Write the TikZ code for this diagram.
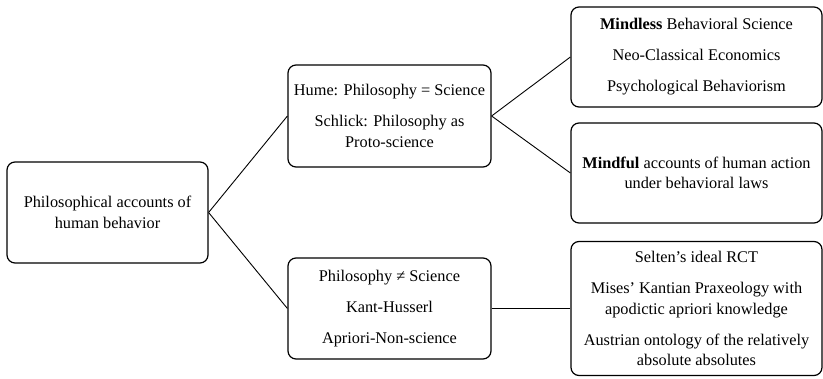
\documentclass[tikz,border=0pt]{standalone}
\usepackage{fontspec}
\setmainfont{Liberation Serif}
\begin{document}
\begin{tikzpicture}[x=1pt,y=-1pt,
  box/.style={draw, rounded corners=8pt, line width=1.2pt, align=center, inner sep=0pt,
              font=\fontsize{16.3}{20.5}\selectfont},
  link/.style={line width=0.9pt}]
\useasboundingbox (0,0) rectangle (823,379);
\node[box, minimum width=201pt, minimum height=101pt] (root) at (107.5,212.5)
  {Philosophical accounts of\\human behavior};
\node[box, minimum width=203pt, minimum height=102pt] (mt) at (389.5,116)
  {Hume: Philosophy = Science\\[10.5pt]Schlick: Philosophy as\\Proto-science};
\node[box, minimum width=203pt, minimum height=101pt] (mb) at (389.5,308.5)
  {Philosophy ≠ Science\\[10.5pt]Kant-Husserl\\[10.5pt]Apriori-Non-science};
\node[box, minimum width=251pt, minimum height=100pt] (rt) at (696.5,57)
  {\textbf{Mindless} Behavioral Science\\[10.5pt]Neo-Classical Economics\\[10.5pt]Psychological Behaviorism};
\node[box, minimum width=251pt, minimum height=100pt] (rm) at (696.5,173)
  {\textbf{Mindful} accounts of human action\\under behavioral laws};
\node[box, minimum width=251pt, minimum height=134pt] (rb) at (696.5,308.5)
  {Selten’s ideal RCT\\[10.5pt]Mises’ Kantian Praxeology with\\apodictic apriori knowledge\\[10.5pt]Austrian ontology of the relatively\\absolute absolutes};
\draw[link] (root.east) -- (mt.west);
\draw[link] (root.east) -- (mb.west);
\draw[link] (mt.east) -- (rt.west);
\draw[link] (mt.east) -- (rm.west);
\draw[link] (mb.east) -- (rb.west);
\end{tikzpicture}
\end{document}
